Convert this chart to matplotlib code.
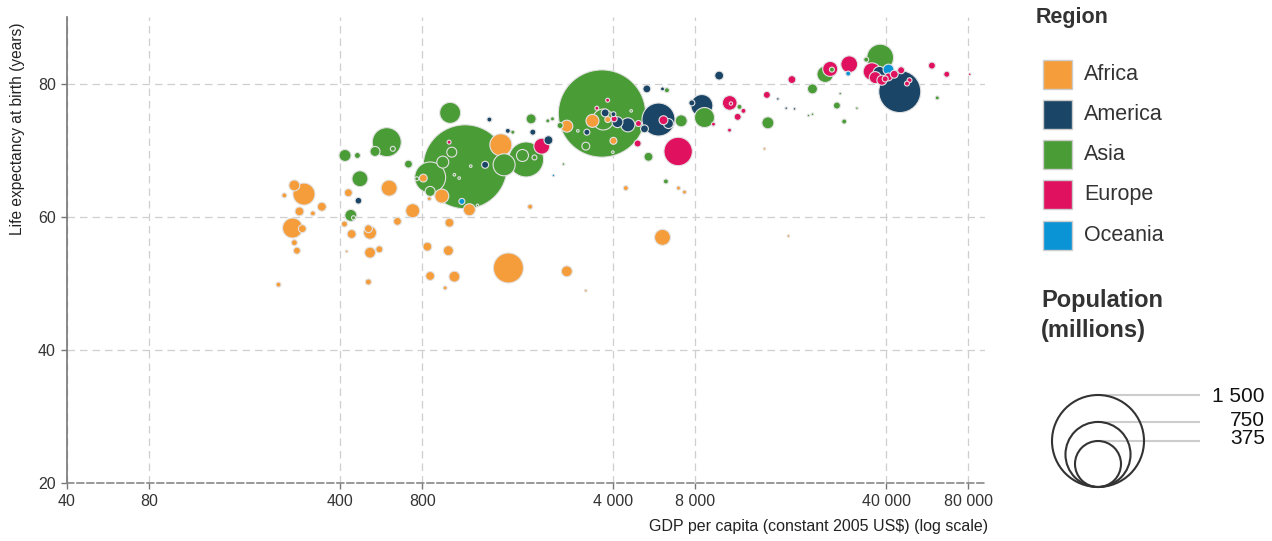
import matplotlib.pyplot as plt
import numpy as np
from matplotlib.patches import Rectangle, Circle
from matplotlib.ticker import NullLocator

plt.rcParams["font.family"] = ["Liberation Sans", "DejaVu Sans"]

DPI = 100

# data: GDP per capita (US$), life expectancy (years), population (millions)
africa_gdp = [238, 272, 295, 250, 343, 284, 318, 268, 291, 272, 278, 429, 605, 738, 649, 415, 441, 508, 515, 515,
              557, 508, 807, 849, 943, 1190, 1006, 835, 997, 855, 1049, 970, 1654, 2707, 1552, 1986, 2707, 3360,
              3824, 4010, 4452, 6940, 7300, 6064, 423, 3177, 17540, 14330]
africa_life = [49.8, 64.7, 63.4, 63.2, 61.5, 60.8, 60.5, 58.3, 58.2, 56.1, 54.9, 63.6, 64.3, 60.9, 59.3, 58.9, 57.4,
               58.2, 57.6, 54.6, 55.1, 50.2, 65.8, 62.7, 63.1, 61.05, 59.1, 55.5, 54.9, 51.1, 51.0, 49.3, 52.3, 51.8,
               70.8, 61.5, 73.6, 74.4, 74.6, 71.4, 64.3, 64.3, 63.7, 56.9, 54.8, 48.9, 57.1, 70.2]
africa_pop = [4.4, 21, 86, 4.4, 14, 14, 4.4, 71, 11, 6.4, 8.7, 11, 45, 35, 11, 6.4, 14, 11, 30, 21, 8.7, 6.4, 11, 2.8,
              35, 25.5, 14, 14, 17.7, 14, 21, 2.8, 160, 21, 86, 4.4, 25.5, 30, 6.4, 8.7, 4.4, 2.8, 2.8, 45, 1.2, 1.2,
              1.2, 1.2]

america_gdp = [467, 1359, 1409, 1646, 2032, 2318, 3205, 3739, 4010, 4149, 4528, 5209, 5315, 6064, 5864, 6376, 8452,
               7767, 9780, 37800, 44840, 16040, 17210, 18460]
america_life = [62.4, 67.8, 74.6, 72.9, 72.7, 71.5, 72.7, 75.6, 75.4, 74.2, 73.8, 73.2, 79.2, 79.2, 74.6, 74.0, 76.7,
                77.1, 81.2, 81.6, 78.8, 77.7, 76.3, 76.2]
america_pop = [8, 8.7, 4.4, 4.4, 6.4, 14, 6.4, 11, 4.4, 21, 35, 11, 11, 2.8, 193, 17.7, 86, 6.4, 14, 30, 313, 1.2,
               1.2, 1.2]

asia_gdp = [593, 624, 537, 417, 463, 712, 473, 438, 448, 1012, 1148, 855, 951, 1026, 855, 764, 1595, 1920, 1862, 2060,
            2003, 1716, 2306, 2398, 2558, 3640, 3677, 3177, 5388, 6240, 6293, 7100, 8641, 11605, 14749, 21480, 23916,
            25300, 33790, 38020, 26390, 28070, 61500, 2630, 20770, 21480, 27140, 31240, 1204, 1049, 1092, 1274, 2970,
            4656, 3990]
asia_life = [71.2, 70.2, 69.8, 69.2, 69.2, 67.9, 65.7, 60.2, 59.85, 75.6, 67.5, 65.9, 68.2, 69.7, 63.8, 65.7, 67.8,
             68.6, 69.2, 68.9, 74.7, 72.7, 74.4, 74.7, 73.7, 75.5, 74.6, 70.6, 69.0, 65.3, 79.0, 74.4, 74.9, 76.5, 74.1,
             79.2, 81.4, 82.1, 83.6, 83.9, 76.7, 74.3, 77.85, 67.9, 75.2, 75.4, 78.5, 76.3, 67.6, 66.3, 65.8, 61.7,
             72.9, 75.9, 69.7]
asia_pop = [149, 4.4, 17.7, 25.5, 6.4, 11, 45, 25.5, 2.8, 78, 1250, 170, 25.5, 17.7, 17.7, 2.8, 86, 217, 25.5, 4.4,
            17.7, 2.8, 2.8, 2.8, 6.4, 1350, 78, 11, 14, 4.4, 4.4, 25.5, 71, 4.4, 25.5, 17.7, 48, 4.4, 4.4, 127, 8.7,
            4.4, 2.8, 1.2, 1.2, 1.2, 1.2, 1.2, 1.2, 1.2, 1.2, 1.2, 1.2, 1.2, 1.2]

europe_gdp = [1003, 2192, 3486, 3819, 4034, 4952, 4917, 6115, 6920, 9320, 10690, 10800, 12000, 11430, 10670, 14620,
              18060, 24940, 29280, 35460, 36460, 38570, 39660, 40780, 42800, 45360, 48680, 47640, 58800, 66640, 80900]
europe_life = [71.2, 70.6, 76.3, 77.5, 74.7, 74.0, 71.0, 74.5, 69.8, 73.9, 77.1, 77.0, 75.9, 75.0, 73.0, 78.3, 80.6,
               82.2, 82.9, 81.8, 80.9, 80.5, 80.7, 81.0, 81.4, 82.0, 80.5, 80.0, 82.7, 81.4, 81.4]
europe_pop = [2.8, 45, 2.8, 2.8, 6.4, 6.4, 8.7, 14, 143, 2.8, 38, 2, 4.4, 8.7, 2.8, 8.7, 11, 40, 50, 55, 25.5, 17.7,
              6.4, 11, 11, 8.7, 4.4, 4.4, 8.7, 6.4, 1.2]

oceania_gdp = [1117, 40780, 29030, 2418]
oceania_life = [62.3, 82.1, 81.5, 66.2]
oceania_pop = [6.4, 21, 4.4, 1.2]

regions = ["Africa", "America", "Asia", "Europe", "Oceania"]
region_colors = ["#F59D3B", "#1A4567", "#4A9C36", "#E0115F", "#0A94D6"]

xticks = [40, 80, 400, 800, 4000, 8000, 40000, 80000]
xtick_labels = ["40", "80", "400", "800", "4 000", "8 000", "40 000", "80 000"]
yticks = [20, 40, 60, 80]
legend_pops = [1500, 750, 375]
legend_labels = ["1 500", "750", "375"]


def radius_px(pop):
    # 1500 million -> 46 px radius, area proportional to population
    return 46 * np.sqrt(np.asarray(pop, dtype=float) / 1500)


def marker_area(pop):
    return (2 * radius_px(pop) * 72 / DPI) ** 2


gdp = np.array(africa_gdp + america_gdp + asia_gdp + europe_gdp + oceania_gdp, dtype=float)
life = np.array(africa_life + america_life + asia_life + europe_life + oceania_life, dtype=float)
pop = np.array(africa_pop + america_pop + asia_pop + europe_pop + oceania_pop, dtype=float)
cols = np.array([region_colors[0]] * len(africa_gdp) + [region_colors[1]] * len(america_gdp)
                + [region_colors[2]] * len(asia_gdp) + [region_colors[3]] * len(europe_gdp)
                + [region_colors[4]] * len(oceania_gdp))

# big bubbles first so the small ones stay visible on top
order = np.argsort(-pop, kind="stable")

fig = plt.figure(figsize=(12.72, 5.41), dpi=DPI)
ax = fig.add_axes([67 / 1272, 58 / 541, 918 / 1272, 466 / 541])

ax.scatter(gdp[order], life[order], s=marker_area(pop[order]), c=cols[order],
           edgecolors="#e2e2e2", linewidths=0.8, zorder=3)

ax.set_xscale("log")
ax.set_xlim(40, 92000)
ax.set_ylim(20, 90)
ax.set_xticks(xticks)
ax.set_xticklabels(xtick_labels)
ax.set_yticks(yticks)
ax.xaxis.set_minor_locator(NullLocator())
ax.tick_params(axis="both", labelsize=11.5, labelcolor="#333333", color="#777777",
               length=4, width=1, pad=4)
ax.grid(True, linestyle=(0, (6, 4)), color="#cfcfcf", linewidth=0.9, zorder=0)
ax.set_axisbelow(True)

for side in ["top", "right"]:
    ax.spines[side].set_visible(False)
ax.spines["left"].set_color("#777777")
ax.spines["left"].set_linewidth(1.2)
ax.spines["bottom"].set_color("#888888")
ax.spines["bottom"].set_linestyle((0, (4, 2)))
ax.spines["bottom"].set_linewidth(1.2)

fig.text(18 / 1272, 1 - 129 / 541, "Life expectancy at birth (years)", rotation=90,
         ha="center", va="center", fontsize=11.2, color="#222222")
fig.text(988 / 1272, 1 - 527 / 541, "GDP per capita (constant 2005 US$) (log scale)",
         ha="right", va="center", fontsize=11.5, color="#222222")

# legend overlay in pixel coordinates
lg = fig.add_axes([0, 0, 1, 1], zorder=5)
lg.set_xlim(0, 1272)
lg.set_ylim(541, 0)
lg.axis("off")

lg.text(1036, 17, "Region", fontsize=15.5, fontweight="bold", color="#333333", ha="left", va="center")
for i, (name, col) in enumerate(zip(regions, region_colors)):
    yc = 74 + i * 40.3
    lg.add_patch(Rectangle((1043, yc - 14.5), 29, 29, facecolor=col, edgecolor="#cccccc", linewidth=1))
    lg.text(1084, yc, name, fontsize=15.5, color="#333333", ha="left", va="center")

lg.text(1041, 300, "Population", fontsize=17, fontweight="bold", color="#333333", ha="left", va="center")
lg.text(1041, 331, "(millions)", fontsize=17, fontweight="bold", color="#333333", ha="left", va="center")

cx, base = 1098, 487
label_y = [396, 420, 438]
for v, lab, ly in zip(legend_pops, legend_labels, label_y):
    r = float(radius_px(v))
    top = base - 2 * r
    lg.plot([cx, 1199], [top, top], color="#cccccc", linewidth=1.5, zorder=1)
    lg.add_patch(Circle((cx, base - r), r, facecolor="none", edgecolor="#333333", linewidth=1.5, zorder=2))
    lg.text(1265, ly, lab, fontsize=15, color="#111111", ha="right", va="center")

fig.savefig("out.png", dpi=DPI)
